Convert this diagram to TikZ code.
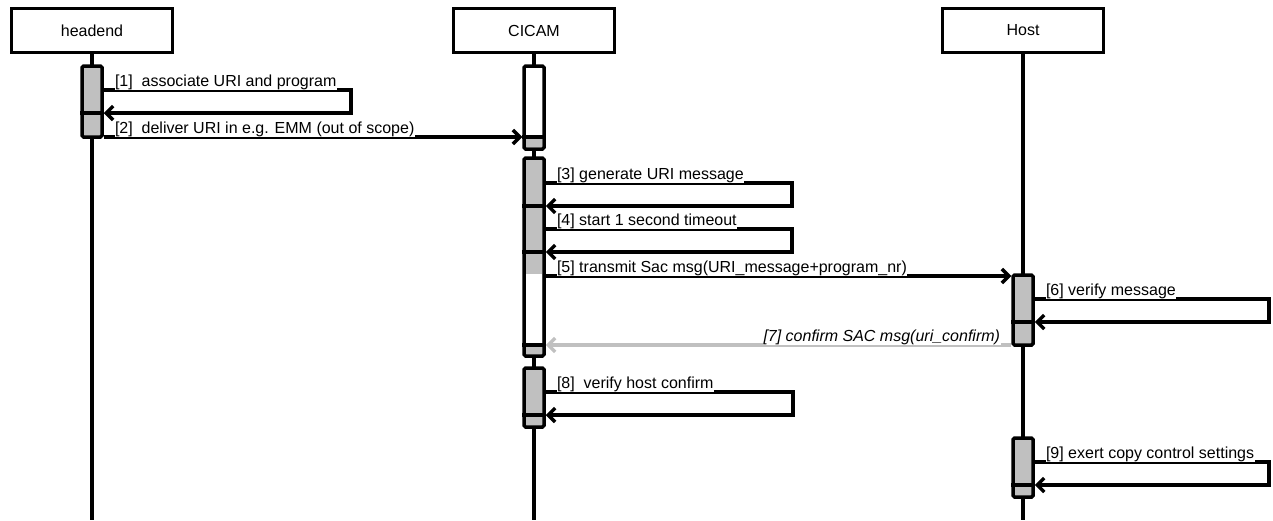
\documentclass[tikz,border=0pt]{standalone}
\usepackage{xcolor}
\usepackage{fontspec}
\setmainfont{Liberation Sans}
\usepackage{tikz}
\usetikzlibrary{arrows.meta}

\definecolor{barGray}{HTML}{C0C0C0}

\begin{document}
\begin{tikzpicture}[x=1pt, y=-1pt, node distance=442pt, auto, font=\fontsize{16}{19}\selectfont]
    \tikzstyle{actor} = [rectangle, minimum width=161pt, minimum height=44pt, text centered, draw=black, line width=3.5pt, fill=white]
    \tikzstyle{life} = [line width=3.5pt]
    \tikzstyle{bar} = [rectangle, minimum width=20pt, inner sep=0pt, draw=black, line width=3.5pt, rounded corners=1.5pt, fill=barGray]
    \tikzstyle{divider} = [line width=3.5pt]
    \tikzstyle{arrow} = [line width=3.5pt, -{Straight Barb[length=7pt, width=14pt]}]
    \tikzstyle{reply} = [arrow, draw=barGray]
    \tikzstyle{msgtext} = [anchor=base west, fill=white, inner sep=0.5pt, xshift=9pt, yshift=4pt]
    \tikzstyle{replytext} = [anchor=base east, fill=white, inner sep=0.5pt, xshift=-9pt, yshift=4pt, font=\fontsize{16}{19}\selectfont\itshape]

    \useasboundingbox (0,0) rectangle (1273,520);

    % participants
    \node (headend) [actor] at (92,30.5) {headend};
    \node (cicam) [actor, right of=headend] {CICAM};
    \node (host) [actor, right of=cicam, xshift=47pt] {Host};

    \coordinate (headendEnd) at (headend |- 0,520);
    \coordinate (cicamEnd) at (cicam |- 0,520);
    \coordinate (hostEnd) at (host |- 0,520);
    \draw [life] (headend) -- (headendEnd);
    \draw [life] (cicam) -- (cicamEnd);
    \draw [life] (host) -- (hostEnd);

    % activation bars
    \node (headendBar) [bar, minimum height=71pt] at (headend |- 0,101.5) {};
    \draw [divider] (headendBar.west |- 0,113) -- (headendBar.east |- 0,113);

    \node (cicamBar1) [bar, fill=white, minimum height=83pt] at (cicam |- 0,107.5) {};
    \fill [barGray] (525.75,137) rectangle (542.25,147.25);
    \draw [divider] (cicamBar1.west |- 0,137) -- (cicamBar1.east |- 0,137);

    \node (cicamBar2) [bar, minimum height=198pt] at (cicam |- 0,257) {};
    \fill [white] (525.75,274) rectangle (542.25,345);
    \draw [divider] (cicamBar2.west |- 0,206) -- (cicamBar2.east |- 0,206);
    \draw [divider] (cicamBar2.west |- 0,252) -- (cicamBar2.east |- 0,252);
    \draw [divider] (cicamBar2.west |- 0,345) -- (cicamBar2.east |- 0,345);

    \node (cicamBar3) [bar, minimum height=59pt] at (cicam |- 0,397.5) {};
    \draw [divider] (cicamBar3.west |- 0,415) -- (cicamBar3.east |- 0,415);

    \node (hostBar1) [bar, minimum height=70pt] at (host |- 0,310) {};
    \draw [divider] (hostBar1.west |- 0,322) -- (hostBar1.east |- 0,322);

    \node (hostBar2) [bar, minimum height=59pt] at (host |- 0,467.5) {};
    \draw [divider] (hostBar2.west |- 0,485) -- (hostBar2.east |- 0,485);

    % messages
    \draw [arrow] (headendBar.east |- 0,90) node [msgtext] {[1]\ \ associate URI and program} -- ++(247,0) |- (headendBar.east |- 0,113);
    \draw [arrow] (headendBar.east |- 0,137) node [msgtext] {[2]\ \ deliver URI in e.g. EMM (out of scope)} -- (cicamBar1.west |- 0,137);
    \draw [arrow] (cicamBar2.east |- 0,183) node [msgtext] {[3] generate URI message} -- ++(246,0) |- (cicamBar2.east |- 0,206);
    \draw [arrow] (cicamBar2.east |- 0,229) node [msgtext] {[4] start 1 second timeout} -- ++(246,0) |- (cicamBar2.east |- 0,252);
    \draw [arrow] (cicamBar2.east |- 0,276) node [msgtext] {[5] transmit Sac msg(URI\_message+program\_nr)} -- (hostBar1.west |- 0,276);
    \draw [arrow] (hostBar1.east |- 0,299) node [msgtext] {[6] verify message} -- ++(234,0) |- (hostBar1.east |- 0,322);
    \draw [reply] (hostBar1.west |- 0,345) node [replytext] {[7] confirm SAC msg(uri\_confirm)} -- (cicamBar2.east |- 0,345);
    \draw [arrow] (cicamBar3.east |- 0,392) node [msgtext] {[8]\ \ verify host confirm} -- ++(247,0) |- (cicamBar3.east |- 0,415);
    \draw [arrow] (hostBar2.east |- 0,462) node [msgtext] {[9] exert copy control settings} -- ++(234,0) |- (hostBar2.east |- 0,485);
\end{tikzpicture}
\end{document}
